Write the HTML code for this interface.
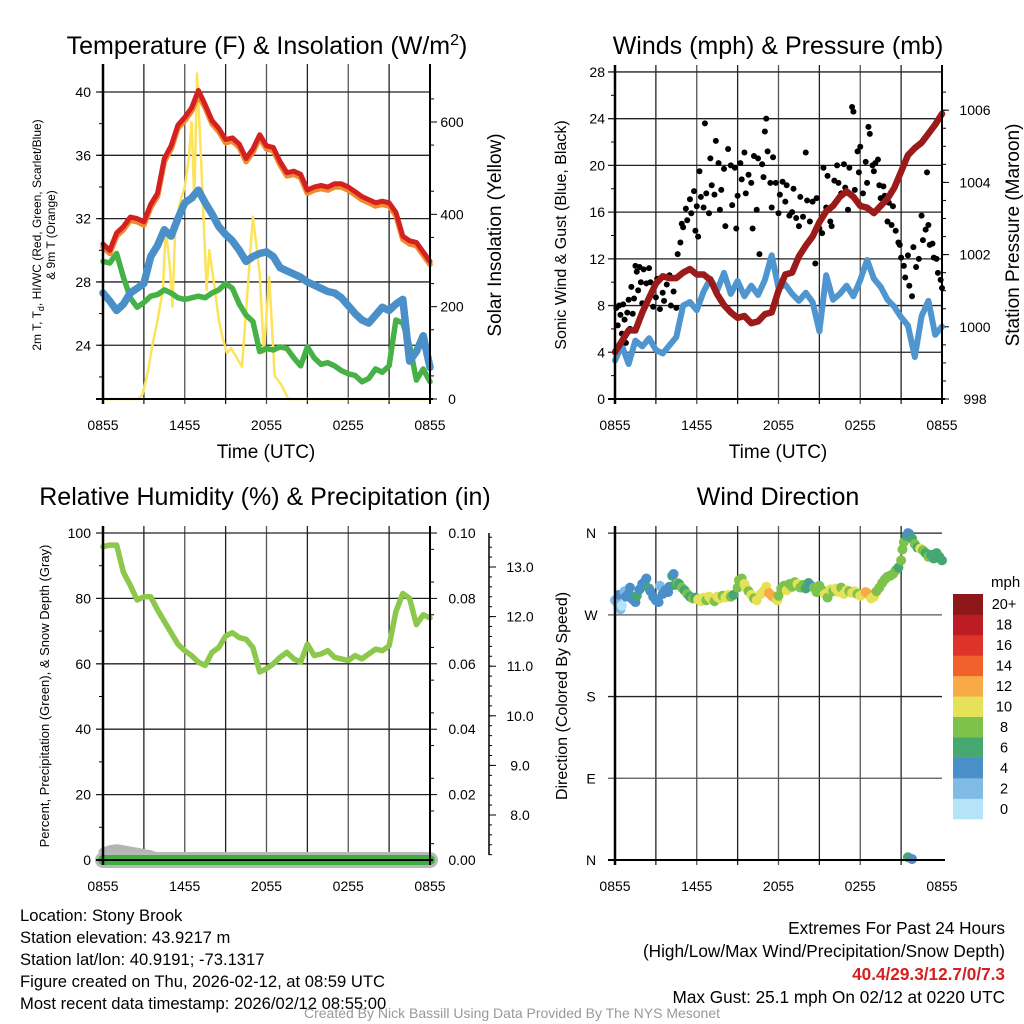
<!DOCTYPE html>
<html><head><meta charset="utf-8"><style>
html,body{margin:0;padding:0;background:#fff;}
svg{display:block;font-family:"Liberation Sans",Arial,sans-serif;}
</style></head><body>
<svg id="root" xmlns="http://www.w3.org/2000/svg" width="1024" height="1024" viewBox="0 0 1024 1024">
<rect x="0" y="0" width="1024" height="1024" fill="#fff"/>
<g id="layer"></g>
<text x="267" y="54" font-size="25" text-anchor="middle">Temperature (F) &amp; Insolation (W/m<tspan dy="-9" font-size="16">2</tspan><tspan dy="9">)</tspan></text>
<text x="778" y="54" font-size="25" text-anchor="middle">Winds (mph) &amp; Pressure (mb)</text>
<text x="265" y="505" font-size="25" text-anchor="middle">Relative Humidity (%) &amp; Precipitation (in)</text>
<text x="778" y="505" font-size="25" text-anchor="middle">Wind Direction</text>
<text x="266" y="458" font-size="19" text-anchor="middle">Time (UTC)</text>
<text x="778" y="458" font-size="19" text-anchor="middle">Time (UTC)</text>
<text transform="translate(41,235) rotate(-90)" font-size="12" text-anchor="middle">2m T, T<tspan font-size="9" dy="3">d</tspan><tspan dy="-3">, HI/WC (Red, Green, Scarlet/Blue)</tspan></text>
<text transform="translate(55,235) rotate(-90)" font-size="12" text-anchor="middle">&amp; 9m T (Orange)</text>
<text transform="translate(501,235) rotate(-90)" font-size="19" text-anchor="middle">Solar Insolation (Yellow)</text>
<text transform="translate(566,235) rotate(-90)" font-size="16" text-anchor="middle">Sonic Wind &amp; Gust (Blue, Black)</text>
<text transform="translate(1019,235) rotate(-90)" font-size="19" text-anchor="middle">Station Pressure (Maroon)</text>
<text transform="translate(49,696) rotate(-90)" font-size="13" text-anchor="middle">Percent, Precipitation (Green), &amp; Snow Depth (Gray)</text>
<text transform="translate(567,696) rotate(-90)" font-size="16" text-anchor="middle">Direction (Colored By Speed)</text>
<text x="991" y="587" font-size="15">mph</text>
<g font-size="16.6">
<text x="20" y="921">Location: Stony Brook</text>
<text x="20" y="943">Station elevation: 43.9217 m</text>
<text x="20" y="965">Station lat/lon: 40.9191; -73.1317</text>
<text x="20" y="987">Figure created on Thu, 2026-02-12, at 08:59 UTC</text>
<text x="20" y="1009">Most recent data timestamp: 2026/02/12 08:55:00</text>
</g>
<g font-size="17.2" text-anchor="end">
<text x="1005" y="934">Extremes For Past 24 Hours</text>
<text x="1005" y="957">(High/Low/Max Wind/Precipitation/Snow Depth)</text>
<text x="1005" y="980" fill="#d42020" font-weight="bold">40.4/29.3/12.7/0/7.3</text>
<text x="1005" y="1003">Max Gust: 25.1 mph On 02/12 at 0220 UTC</text>
</g>
<text x="512" y="1018" font-size="14" fill="#999" text-anchor="middle">Created By Nick Bassill Using Data Provided By The NYS Mesonet</text>
</svg>
<script>
// ---------- data ----------
const xTickLabels = ['0855','1455','2055','0255','0855'];
const xTickHours = [0,6,12,18,24];
const tempTicks = [24,28,32,36,40];
const solarTicks = [0,200,400,600];
const windTicks = [0,4,8,12,16,20,24,28];
const presTicks = [998,1000,1002,1004,1006];
const rhTicks = [0,20,40,60,80,100];
const precipTicks = ['0.00','0.02','0.04','0.06','0.08','0.10'];
const snowTicks = ['8.0','9.0','10.0','11.0','12.0','13.0'];
const dirTicks = ['N','E','S','W','N'];
const dirTickDeg = [0,90,180,270,360];
const speedLabels = ['0','2','4','6','8','10','12','14','16','18','20+'];
const speedColors = ['#b5e3f8','#80bbe5','#4a8fc8','#47a771','#7dc24b','#e5e158','#f7aa46','#f0612c','#dd3328','#bc1d25','#8e1719'];

const temp2m = [30.4,30.0,31.1,31.5,32.1,32.0,31.8,32.9,33.6,35.8,36.6,37.9,38.4,39.0,40.1,39.2,38.2,37.7,37.0,37.1,36.7,35.8,36.4,37.3,36.6,36.5,35.6,34.9,35.0,34.8,33.8,34.0,34.1,34.0,34.2,34.2,34.0,33.7,33.4,33.2,33.0,33.1,33.0,32.4,30.9,30.6,30.5,29.9,29.3];
const temp9m = [30.2,29.8,30.9,31.3,31.9,31.8,31.6,32.7,33.4,35.6,36.4,37.7,38.2,38.8,39.8,39.0,38.0,37.5,36.8,36.9,36.5,35.6,36.2,37.1,36.4,36.3,35.4,34.7,34.8,34.6,33.6,33.8,33.9,33.8,34.0,34.0,33.8,33.5,33.2,33.0,32.8,32.9,32.8,32.2,30.7,30.4,30.3,29.7,29.1];
const windChill = [27.3,26.8,26.2,26.6,27.3,27.6,27.9,29.6,30.3,31.3,30.9,32.0,33.0,33.3,33.8,33.0,32.3,31.5,31.0,30.6,30.0,29.3,29.6,29.8,29.9,29.6,28.9,28.7,28.5,28.3,28.0,27.8,27.6,27.4,27.3,27.0,26.5,26.0,25.6,25.4,25.9,26.4,26.2,26.6,26.9,23.0,23.6,24.6,22.6];
const dewpoint = [29.3,29.2,29.8,28.3,27.0,26.4,26.7,27.1,27.2,27.5,27.3,27.0,26.9,27.0,27.1,27.0,27.3,27.5,27.9,27.6,26.6,25.9,25.5,23.6,23.8,23.7,23.9,23.8,23.2,22.7,23.9,23.2,22.8,22.9,22.7,22.4,22.2,22.1,21.7,21.9,22.5,22.3,22.7,25.6,25.4,24.0,21.8,22.5,21.7];
const solarHours = [0,2.6,2.9,3.3,3.6,4.0,4.4,4.6,4.9,5.1,5.3,5.6,6.0,6.3,6.5,6.7,6.9,7.2,7.6,7.8,8.2,8.5,8.8,9.1,9.4,9.8,10.2,10.6,11.0,11.5,11.8,12.2,12.6,13.1,13.6,24];
const solarValues = [0,0,10,60,113,170,240,370,287,200,370,420,460,520,600,431,705,518,236,322,240,171,130,99,110,90,70,230,395,272,100,264,50,30,0,0];
const pressure = [999.3,999.6,999.9,999.9,1000.4,1000.8,1001.2,1001.4,1001.35,1001.35,1001.5,1001.6,1001.45,1001.45,1001.3,1000.9,1000.6,1000.4,1000.25,1000.3,1000.1,1000.15,1000.35,1000.4,1001.0,1001.45,1001.5,1001.95,1002.25,1002.5,1002.9,1003.2,1003.35,1003.6,1003.75,1003.6,1003.35,1003.3,1003.15,1003.35,1003.55,1003.85,1004.3,1004.75,1004.95,1005.1,1005.35,1005.6,1005.9];
const sonicWind = [3.3,4.6,3.0,5.0,4.5,5.2,4.2,3.9,4.6,5.3,8.0,8.3,7.6,9.2,10.3,9.3,10.8,9.0,10.1,8.8,9.7,8.9,10.2,12.3,9.5,9.8,9.0,8.4,9.1,8.3,5.8,10.6,8.5,9.0,9.7,8.8,10.2,11.9,10.3,9.6,8.5,7.9,7.0,6.3,3.6,7.1,8.4,5.5,6.2];
const gustPoints = [[0.1,7.8],[0.2,6.3],[0.3,8.0],[0.4,7.2],[0.5,5.6],[0.6,8.1],[0.7,6.8],[0.8,4.8],[0.9,7.4],[1.0,8.5],[1.1,6.0],[1.2,9.6],[1.3,7.3],[1.4,8.6],[1.5,11.4],[1.6,10.9],[1.7,9.3],[1.8,11.3],[1.9,10.0],[2.0,8.2],[2.1,11.1],[2.3,9.9],[2.5,11.2],[2.6,10.0],[2.8,7.9],[3.0,8.7],[3.1,10.3],[3.3,7.7],[3.5,9.1],[3.6,8.4],[3.8,9.8],[4.0,10.6],[4.1,8.0],[4.3,9.2],[4.5,7.8],[4.6,12.4],[4.8,13.4],[4.9,15.0],[5.0,14.7],[5.2,16.3],[5.3,15.3],[5.5,17.1],[5.6,15.9],[5.8,17.8],[5.9,14.4],[6.0,16.5],[6.1,13.9],[6.2,19.5],[6.3,17.3],[6.5,16.4],[6.6,23.6],[6.7,17.6],[6.9,15.9],[7.0,20.6],[7.1,18.3],[7.3,17.5],[7.4,22.1],[7.6,20.2],[7.7,16.2],[7.8,17.9],[8.0,19.7],[8.1,14.8],[8.3,21.4],[8.5,20.0],[8.6,16.6],[8.8,19.8],[8.9,14.6],[9.0,17.4],[9.2,20.2],[9.3,18.8],[9.5,21.1],[9.6,17.6],[9.8,19.2],[10.0,18.5],[10.1,14.6],[10.2,20.8],[10.4,16.2],[10.5,20.6],[10.6,12.4],[10.8,20.1],[10.9,19.0],[11.0,22.9],[11.1,24.0],[11.2,21.2],[11.4,18.5],[11.5,16.4],[11.6,20.7],[11.8,18.5],[12.0,15.9],[12.1,17.5],[12.3,18.6],[12.5,16.9],[12.6,18.3],[12.8,15.7],[13.0,16.0],[13.1,18.0],[13.3,15.5],[13.5,14.8],[13.6,17.3],[13.8,15.6],[14.0,21.1],[14.1,17.0],[14.3,15.2],[14.5,16.9],[14.7,11.6],[14.8,17.2],[15.0,14.6],[15.2,14.2],[15.3,19.8],[15.5,16.4],[15.6,19.1],[15.8,15.2],[15.9,14.8],[16.1,18.7],[16.3,20.0],[16.4,18.5],[16.6,17.6],[16.8,20.1],[16.9,18.1],[17.1,16.2],[17.2,19.8],[17.4,25.0],[17.5,24.6],[17.6,17.9],[17.8,21.2],[17.9,19.4],[18.0,21.6],[18.2,17.6],[18.4,20.3],[18.5,18.5],[18.6,23.3],[18.7,22.7],[18.9,20.0],[19.0,19.5],[19.1,20.2],[19.3,20.5],[19.4,18.3],[19.5,17.2],[19.7,18.2],[19.8,17.4],[20.0,15.2],[20.1,16.8],[20.3,14.9],[20.4,16.5],[20.6,14.4],[20.8,13.4],[20.9,13.2],[21.0,12.1],[21.2,11.4],[21.3,10.4],[21.5,12.3],[21.6,9.7],[21.8,8.8],[21.9,13.0],[22.1,11.3],[22.3,12.0],[22.5,15.7],[22.6,13.6],[22.8,14.5],[22.9,19.4],[23.0,14.9],[23.1,13.2],[23.3,13.3],[23.4,12.1],[23.6,12.0],[23.7,10.8],[23.9,10.2],[24.0,9.5]];
const rh = [95.8,96.3,96.3,88.0,84.0,79.5,80.5,80.5,76.5,73.0,69.5,66.0,64.0,62.5,60.5,59.5,63.5,65.0,68.5,69.5,68.0,67.5,65.0,57.5,58.5,60.0,62.0,63.5,61.5,60.5,66.0,62.5,63.0,64.0,62.0,61.5,61.0,62.5,61.5,63.0,64.5,64.0,65.5,76.0,81.5,80.0,72.0,75.0,74.0];
const precip = [0,0,0,0,0,0,0,0,0,0,0,0,0,0,0,0,0,0,0,0,0,0,0,0,0,0,0,0,0,0,0,0,0,0,0,0,0,0,0,0,0,0,0,0,0,0,0,0,0];
const snowDepth = [7.25,7.3,7.32,7.3,7.27,7.25,7.22,7.2,7.15,7.12,7.1,7.1,7.1,7.1,7.1,7.1,7.1,7.1,7.1,7.1,7.1,7.1,7.1,7.1,7.1,7.1,7.1,7.1,7.1,7.1,7.1,7.1,7.1,7.1,7.1,7.1,7.1,7.1,7.1,7.1,7.1,7.1,7.1,7.1,7.1,7.1,7.1,7.1,7.1];
const dirPoints = [[0.0,286,3],[0.2,282,2],[0.3,292,4],[0.4,276,2],[0.5,280,1],[0.7,296,2],[0.8,290,4],[1.0,293,4],[1.1,300,4],[1.3,287,4],[1.5,284,5],[1.6,291,7],[1.8,298,4],[2.0,304,4],[2.2,307,4],[2.3,310,4],[2.5,299,6],[2.6,296,4],[2.8,290,4],[3.0,286,4],[3.2,284,4],[3.3,302,2],[3.5,293,4],[3.7,297,4],[3.9,295,4],[4.0,301,4],[4.2,313,6],[4.3,315,4],[4.4,303,7],[4.6,305,8],[4.7,304,6],[4.9,300,8],[5.1,297,7],[5.3,293,8],[5.5,290,7],[5.7,288,8],[5.9,289,6],[6.1,287,10],[6.3,285,10],[6.5,289,10],[6.7,286,8],[6.9,290,10],[7.1,287,10],[7.3,285,8],[7.5,290,10],[7.7,288,10],[7.9,291,8],[8.1,289,10],[8.3,292,10],[8.5,290,8],[8.7,292,6],[9.0,300,8],[9.1,308,8],[9.3,310,8],[9.5,304,10],[9.6,300,10],[9.8,296,8],[10.0,292,10],[10.2,288,8],[10.4,286,10],[10.7,293,10],[10.9,296,10],[11.1,301,10],[11.3,294,12],[11.5,291,12],[11.7,289,13],[11.9,286,10],[12.0,291,8],[12.2,299,8],[12.4,302,8],[12.6,297,10],[12.8,304,8],[13.0,301,8],[13.2,306,8],[13.4,304,10],[13.6,300,8],[13.8,303,8],[14.0,299,6],[14.2,305,6],[14.4,302,4],[14.6,300,8],[14.8,295,8],[15.0,302,8],[15.2,297,8],[15.4,293,10],[15.6,289,8],[15.8,298,10],[16.0,296,8],[16.2,299,10],[16.4,295,10],[16.6,300,8],[16.8,293,10],[17.0,297,10],[17.2,296,8],[17.4,294,10],[17.6,296,10],[17.8,293,8],[18.0,291,10],[18.2,293,10],[18.4,295,12],[18.6,293,13],[18.8,288,10],[19.0,290,10],[19.2,296,8],[19.4,300,8],[19.6,305,8],[19.8,309,8],[20.0,312,8],[20.2,313,8],[20.4,315,8],[20.6,319,8],[20.8,322,7],[21.0,330,8],[21.1,342,8],[21.2,350,8],[21.4,357,6],[21.5,360,4],[21.6,359,4],[21.5,3,6],[21.8,1,4],[21.8,354,6],[22.0,348,8],[22.2,344,6],[22.4,343,10],[22.6,341,8],[22.8,338,6],[23.0,334,8],[23.2,336,6],[23.4,332,6],[23.6,338,6],[23.8,334,6],[24.0,330,6]];

// ---------- helpers ----------
const NS = 'http://www.w3.org/2000/svg';
const layer = document.getElementById('layer');
function mk(tag, attrs, parent){
  const e = document.createElementNS(NS, tag);
  for (const k in attrs) e.setAttribute(k, attrs[k]);
  (parent || layer).appendChild(e);
  return e;
}
function nm(e, n){
  
  
}
const P1 = {x0:103,x1:430,y0:71,y1:399};
const P2 = {x0:615,x1:942,y0:72,y1:399};
const P3 = {x0:103,x1:430,y0:533,y1:860};
const P4 = {x0:615,x1:942,y0:533,y1:860};
function xs(P){ return h => P.x0 + h*(P.x1-P.x0)/24; }
const x1 = xs(P1), x2 = xs(P2), x3 = xs(P3), x4 = xs(P4);
const yTemp = v => 92 + (40 - v)*15.83;
const ySolar = s => 399 - s*0.4617;
const yWind = m => 399 - m*11.68;
const yPres = p => 399 - (p - 998)*36.1;
const yRH = v => 860 - v*3.27;
const yPrecip = p => 860 - p*3270;
const ySnow = s => 815 - (s - 8)*49.6;
const yDir = d => 860 - d*0.908;

function gridAndFrame(P, xf, name){
  const g = mk('g', {});
  nm(g, name + '-grid');
  for (let h = 3; h < 24; h += 3){
    const l = mk('line', {x1:xf(h), x2:xf(h), y1:P.y0-7, y2:P.y1+5, stroke:(h%6===0?'#555':'#222'), 'stroke-width':1.3}, g);
    nm(l, 'vertical-grid-line');
  }
  const xl = mk('g', {'font-size':14, 'text-anchor':'middle'});
  nm(xl, name + '-x-axis');
  xTickHours.forEach((h, i) => {
    const t = mk('text', {x:xf(h), y:P.y1+31}, xl);
    t.textContent = xTickLabels[i];
    nm(t, 'x-tick-label');
  });
}
function hline(P, y, name, col){
  const l = mk('line', {x1:P.x0-7, x2:P.x1, y1:y, y2:y, stroke:col||'#222', 'stroke-width':1.3});
  nm(l, name);
}
function frame(P, name){
  const a = mk('line', {x1:P.x0, x2:P.x0, y1:P.y0-7, y2:P.y1+5, stroke:'#000', 'stroke-width':2.5});
  nm(a, name + '-left-axis');
  const b = mk('line', {x1:P.x0-7, x2:P.x1+3, y1:P.y1, y2:P.y1, stroke:'#000', 'stroke-width':2});
  nm(b, name + '-bottom-axis');
}
function rightAxis(P, name){
  const a = mk('line', {x1:P.x1, x2:P.x1, y1:P.y0-7, y2:P.y1+5, stroke:'#000', 'stroke-width':2});
  nm(a, name + '-right-axis');
}
function yLabel(x, y, txt, anchor, name, size){
  const t = mk('text', {x:x, y:y+5, 'font-size':size||14, 'text-anchor':anchor});
  t.textContent = txt;
  nm(t, name);
}
function tick(x, y, len, name){
  const l = mk('line', {x1:x, x2:x+len, y1:y, y2:y, stroke:'#000', 'stroke-width':1});
  nm(l, name);
}
function pathOf(xsArr, ysArr){
  return xsArr.map((x, i) => (i ? 'L' : 'M') + x.toFixed(1) + ',' + ysArr[i].toFixed(1)).join(' ');
}
function line(vals, xf, yf, color, w, name, hours){
  const hs = hours || vals.map((v, i) => i*0.5);
  const p = mk('path', {d:pathOf(hs.map(xf), vals.map(yf)), fill:'none', stroke:color, 'stroke-width':w, 'stroke-linejoin':'round', 'stroke-linecap':'round'});
  nm(p, name);
}

// ---------- Panel 1 ----------
gridAndFrame(P1, x1, 'temp');
tempTicks.forEach(v => { hline(P1, yTemp(v), 'temp-grid-line'); yLabel(P1.x0-12, yTemp(v), String(v), 'end', 'temp-tick-label'); });
for (let v = 22; v <= 41; v += 2) tick(P1.x0, yTemp(v), -4, 'temp-minor-tick');
solarTicks.forEach(s => { tick(P1.x1, ySolar(s), 7, 'solar-tick'); yLabel(P1.x1+22, ySolar(s), String(s), 'middle', 'solar-tick-label'); });
for (let s = 50; s < 720; s += 100) tick(P1.x1, ySolar(s), 4, 'solar-minor-tick');
line(solarValues, x1, ySolar, '#fde35a', 2.5, 'solar-line', solarHours);
line(dewpoint, x1, yTemp, '#46b246', 5.5, 'dewpoint-line');
line(windChill, x1, yTemp, '#4a8fc8', 7.5, 'windchill-line');
line(temp9m, x1, yTemp, '#f08a2e', 5.5, 'temp-9m-line');
line(temp2m, x1, yTemp, '#d42020', 5, 'temp-2m-line');
frame(P1, 'temp'); rightAxis(P1, 'temp');

// ---------- Panel 2 ----------
gridAndFrame(P2, x2, 'wind');
windTicks.forEach(v => { hline(P2, yWind(v), 'wind-grid-line'); yLabel(P2.x0-10, yWind(v), String(v), 'end', 'wind-tick-label'); });
for (let v = 2; v < 28; v += 4) tick(P2.x0, yWind(v), -4, 'wind-minor-tick');
presTicks.forEach(p => { tick(P2.x1, yPres(p), 7, 'pressure-tick'); yLabel(P2.x1+33, yPres(p), String(p), 'middle', 'pressure-tick-label'); });
for (let p = 998.5; p < 1007; p += 0.5) tick(P2.x1, yPres(p), 4, 'pressure-minor-tick');
line(sonicWind, x2, yWind, '#4f95cf', 6, 'sonic-wind-line');
const gg = mk('g', {fill:'#000'});
nm(gg, 'gust-points');
gustPoints.forEach(pt => {
  const c = mk('circle', {cx:x2(pt[0]), cy:yWind(pt[1]), r:3}, gg);
  nm(c, 'gust-point');
});
line(pressure, x2, yPres, '#9b1b1b', 6.5, 'pressure-line');
frame(P2, 'wind'); rightAxis(P2, 'wind');

// ---------- Panel 3 ----------
gridAndFrame(P3, x3, 'rh');
rhTicks.forEach(v => { hline(P3, yRH(v), 'rh-grid-line'); yLabel(P3.x0-12, yRH(v), String(v), 'end', 'rh-tick-label'); });
for (let v = 10; v < 100; v += 20) tick(P3.x0, yRH(v), -4, 'rh-minor-tick');
precipTicks.forEach(p => { tick(P3.x1, yPrecip(+p), 7, 'precip-tick'); yLabel(P3.x1+32, yPrecip(+p), p, 'middle', 'precip-tick-label'); });
for (let p = 0.005; p < 0.1; p += 0.01) tick(P3.x1, yPrecip(p), 4, 'precip-minor-tick');
const sa = mk('line', {x1:489, x2:489, y1:533, y2:855, stroke:'#000', 'stroke-width':1.5});
nm(sa, 'snow-axis');
snowTicks.forEach(s => { tick(489, ySnow(+s), 7, 'snow-tick'); yLabel(520, ySnow(+s), s, 'middle', 'snow-tick-label'); });
for (let s = 7.2; s < 13.6; s += 0.2) tick(489, ySnow(s), 3, 'snow-minor-tick');
line(snowDepth, x3, ySnow, '#b4b4b4', 9, 'snow-depth-line');
line(precip, x3, yPrecip, '#b8b8b8', 16, 'precip-halo');
line(precip, x3, yPrecip, '#3fae3f', 10, 'precip-line');
line(rh, x3, yRH, '#8cc84b', 5.5, 'rh-line');
frame(P3, 'rh'); rightAxis(P3, 'rh');

// ---------- Panel 4 ----------
gridAndFrame(P4, x4, 'dir');
dirTickDeg.forEach((d, i) => { hline(P4, yDir(d), 'dir-grid-line', i%2 ? '#555' : '#222'); yLabel(P4.x0-24, yDir(d), dirTicks[i], 'middle', 'dir-tick-label'); });
const dg = mk('g', {});
nm(dg, 'direction-points');
dirPoints.forEach(pt => {
  const idx = Math.min(10, Math.floor(pt[2]/2));
  const c = mk('circle', {cx:x4(pt[0]), cy:yDir(pt[1]), r:5, fill:speedColors[idx]}, dg);
  nm(c, 'direction-point');
});
frame(P4, 'dir');
const cb = mk('g', {});
nm(cb, 'speed-colorbar');
speedColors.forEach((col, i) => {
  const h = (819-594)/11;
  const y = 819 - (i+1)*h;
  const r = mk('rect', {x:953, y:y, width:30, height:h+0.3, fill:col}, cb);
  nm(r, 'colorbar-box');
  const t = mk('text', {x:1004, y:y+h/2+5, 'font-size':14.5, 'text-anchor':'middle'}, cb);
  t.textContent = speedLabels[i];
  nm(t, 'colorbar-label');
});
</script>
</body></html>
